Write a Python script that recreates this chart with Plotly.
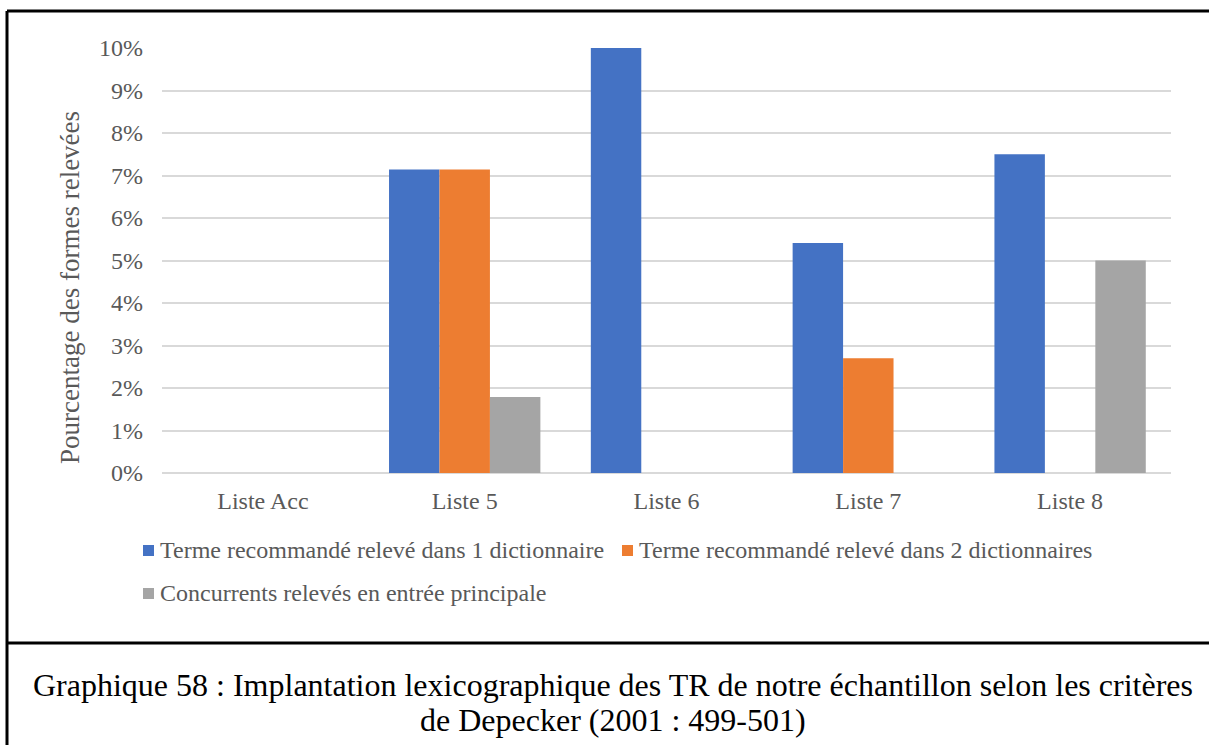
import plotly.graph_objects as go

# Data
categories = ["Liste Acc", "Liste 5", "Liste 6", "Liste 7", "Liste 8"]
series_names = [
    "Terme recommandé relevé dans 1 dictionnaire",
    "Terme recommandé relevé dans 2 dictionnaires",
    "Concurrents relevés en entrée principale",
]
terme_1_dict = [0.0, 0.0714, 0.10, 0.0541, 0.075]
terme_2_dict = [0.0, 0.0714, 0.0, 0.0270, 0.0]
concurrents = [0.0, 0.0179, 0.0, 0.0, 0.05]
colors = ["#4472C4", "#ED7D31", "#A5A5A5"]
tick_values = [i / 100 for i in range(11)]
caption_lines = [
    "Graphique 58 : Implantation lexicographique des TR de notre échantillon selon les critères",
    "de Depecker (2001 : 499-501)",
]

W, H = 1209, 745
L, R, T, B = 162, 1171, 48, 473  # plot area in pixels
SERIF = "Liberation Serif, Times New Roman, serif"
GREY_TXT = "#595959"


def px(x):
    return (x - L) / (R - L)


def py(y):
    return (B - y) / (B - T)


fig = go.Figure()
for name, vals, col in zip(series_names, [terme_1_dict, terme_2_dict, concurrents], colors):
    fig.add_trace(go.Bar(x=categories, y=vals, name=name, marker_color=col,
                         marker_line_width=0, showlegend=False))

shapes = []
annotations = []

# Legend drawn by hand: square swatch + label
legend_pos = [(143, 550), (622, 550), (143, 593)]
for (lx, ly), name, col in zip(legend_pos, series_names, colors):
    shapes.append(dict(type="rect", xref="paper", yref="paper",
                       x0=px(lx), x1=px(lx + 11), y0=py(ly + 6), y1=py(ly - 5),
                       fillcolor=col, line_width=0))
    annotations.append(dict(xref="paper", yref="paper", x=px(lx + 15), y=py(ly),
                            xanchor="left", yanchor="middle", showarrow=False,
                            text=name, font=dict(family=SERIF, size=24, color=GREY_TXT)))

# Frame and separator between chart and caption
frame = dict(color="black", width=3)
shapes.append(dict(type="line", xref="paper", yref="paper",
                   x0=px(7), x1=px(1215), y0=py(11), y1=py(11), line=frame))
shapes.append(dict(type="line", xref="paper", yref="paper",
                   x0=px(7), x1=px(7), y0=py(11), y1=py(760), line=frame))
shapes.append(dict(type="line", xref="paper", yref="paper",
                   x0=px(7), x1=px(1215), y0=py(643), y1=py(643), line=frame))

# Y axis title
annotations.append(dict(xref="paper", yref="paper", x=px(70), y=py(288),
                        xanchor="center", yanchor="middle", textangle=-90, showarrow=False,
                        text="Pourcentage des formes relevées",
                        font=dict(family=SERIF, size=27, color=GREY_TXT)))

# Caption, one annotation per line for tight spacing
for line, ly in zip(caption_lines, [685, 720]):
    annotations.append(dict(xref="paper", yref="paper", x=px(613), y=py(ly),
                            xanchor="center", yanchor="middle", showarrow=False,
                            text=line, font=dict(family=SERIF, size=32, color="black")))

fig.update_layout(
    width=W, height=H,
    margin=dict(l=L, r=W - R, t=T, b=H - B, pad=0),
    paper_bgcolor="white", plot_bgcolor="white",
    barmode="group", bargap=0.25, bargroupgap=0,
    shapes=shapes, annotations=annotations,
    font=dict(family=SERIF, size=24, color=GREY_TXT),
)
fig.update_xaxes(showgrid=False, showline=False, zeroline=False, ticks="",
                 ticklabelstandoff=11,
                 tickfont=dict(family=SERIF, size=24, color=GREY_TXT))
fig.update_yaxes(range=[0, 0.10], tickvals=tick_values, tickformat=".0%",
                 showgrid=True, gridcolor="#D9D9D9", gridwidth=2,
                 zeroline=True, zerolinecolor="#D9D9D9", zerolinewidth=2,
                 showline=False, ticks="", ticklabelstandoff=18,
                 tickfont=dict(family=SERIF, size=24, color=GREY_TXT))

fig.write_html("out.html")
